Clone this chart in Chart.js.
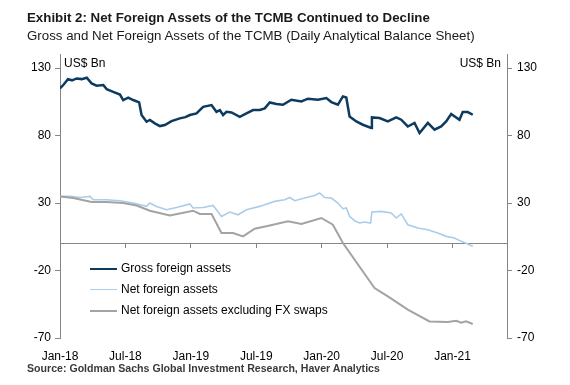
<!DOCTYPE html>
<html>
<head>
<meta charset="utf-8">
<script src="https://cdn.jsdelivr.net/npm/chart.js@4/dist/chart.umd.min.js"></script>
<style>
    body { margin: 0; background: #fff; }
    #wrap { position: relative; width: 570px; height: 385px; font-family: "Liberation Sans", Arial, sans-serif; color: #000; }
    #chart { position: absolute; left: 0; top: 0; }
    .txt { position: absolute; white-space: nowrap; }
    .title { left: 27px; top: 10px; font-size: 13.3px; font-weight: bold; color: #1a1a1a; }
    .subtitle { left: 27px; top: 28px; font-size: 13.3px; color: #1a1a1a; }
    .unit { font-size: 12px; top: 56px; }
    .source { left: 27px; top: 362px; font-size: 10.6px; font-weight: bold; color: #3a3a3a; }
    .legend-row { position: absolute; left: 90px; height: 14px; font-size: 12px; white-space: nowrap; }
    .legend-row span.swatch { position: absolute; left: 0; top: 7px; width: 27px; }
    .legend-row span.label { position: absolute; left: 31px; top: 0; }
</style>
</head>
<body>
<div id="wrap">
    <canvas id="chart" width="570" height="385"></canvas>
    <div class="txt title">Exhibit 2: Net Foreign Assets of the TCMB Continued to Decline</div>
    <div class="txt subtitle">Gross and Net Foreign Assets of the TCMB (Daily Analytical Balance Sheet)</div>
    <div class="txt unit" style="left:64px">US$ Bn</div>
    <div class="txt unit" style="right:69px">US$ Bn</div>
    <div id="legend"></div>
    <div class="txt source">Source: Goldman Sachs Global Investment Research, Haver Analytics</div>
</div>
<script>
// x values are months since Jan-2018
const tickLabels = ['Jan-18', 'Jul-18', 'Jan-19', 'Jul-19', 'Jan-20', 'Jul-20', 'Jan-21'];
const yTicks = [-70, -20, 30, 80, 130];
const seriesNames = ['Gross foreign assets', 'Net foreign assets', 'Net foreign assets excluding FX swaps'];
const seriesColors = ['#0d3a5f', '#a9cdea', '#a3a3a3'];
const seriesWidths = [2.5, 1.6, 2];

const grossMonths = [0, 0.3, 0.73, 1.1, 1.53, 1.99, 2.45, 2.9, 3.36, 3.97, 4.28, 4.88, 5.5, 5.8, 6.26, 6.71, 7.26, 7.48, 7.94, 8.24, 8.7, 9.16, 9.62, 10.23, 10.99, 11.5, 11.91, 12.52, 13.13, 13.9, 14.35, 14.66, 14.96, 15.27, 15.73, 16.49, 17.1, 17.71, 18.32, 18.78, 19.24, 19.85, 20.45, 21.22, 22.14, 22.74, 23.66, 24.43, 24.89, 25.49, 25.95, 26.26, 26.56, 27.18, 27.78, 28.55, 28.61, 29.31, 30.07, 30.84, 31.3, 31.9, 32.52, 32.98, 33.74, 34.35, 34.96, 35.42, 35.88, 36.64, 36.94, 37.4, 37.86];
const grossValues = [114.9, 117.4, 121.8, 120.9, 122.3, 121.8, 122.8, 118.6, 116.9, 117.4, 114.4, 112.4, 110.4, 106.3, 108, 106.3, 104.5, 95.2, 90.2, 91.5, 89, 87, 87.8, 90.7, 92.7, 93.6, 95.2, 96.4, 101.3, 102.6, 97.6, 98.9, 95.2, 97.6, 97.1, 93.9, 96.4, 98.9, 98.9, 100.1, 104.5, 103.3, 102.8, 106.5, 105.3, 107.3, 106.5, 107.8, 104.8, 102.8, 109, 108.2, 94.1, 90.4, 88, 85.6, 93.4, 93, 90.4, 93.4, 91.7, 86.7, 89.3, 81.9, 89.3, 84.3, 86.7, 90.4, 95.9, 91.7, 97.4, 97.4, 95.4];

const netMonths = [0, 0.92, 1.83, 2.75, 3.05, 4.28, 5.5, 6.71, 7.94, 8.24, 8.86, 9.77, 10.69, 11.91, 12.21, 13.13, 14.04, 14.35, 14.81, 15.57, 16.33, 17.1, 18.32, 18.78, 19.69, 20.61, 21.07, 21.53, 22.44, 23.36, 23.82, 24.27, 24.89, 25.49, 25.95, 26.26, 26.56, 27.02, 27.48, 27.94, 28.49, 28.61, 29.47, 30.38, 30.84, 31.3, 31.9, 32.82, 33.74, 34.65, 35.42, 36.18, 36.8, 37.4, 37.86];
const netValues = [34.9, 34.9, 34.1, 34.9, 32.4, 32.4, 31.7, 30, 27.5, 30, 27.5, 25, 26.7, 29.3, 26.3, 26.7, 28.2, 25, 20.1, 23.3, 21.3, 25, 27.5, 28.7, 31.2, 32.4, 34.1, 31.7, 33.7, 35.6, 37.4, 34.1, 33.7, 30, 25.8, 26.3, 20.1, 16.9, 15.2, 15.9, 15.2, 23.3, 23.8, 22.6, 18.9, 21.9, 13.9, 11.5, 10.2, 7.8, 5.3, 4.1, 1.6, -0.4, -2.1];

const exSwapMonths = [0, 1.22, 2.9, 4.28, 5.8, 7.03, 8.24, 10.08, 12.21, 12.82, 13.9, 14.81, 15.87, 16.79, 17.86, 19.24, 20.91, 22.14, 23.97, 25.03, 25.95, 28.85, 30.07, 31.9, 33.89, 35.57, 36.34, 36.8, 37.24, 37.86];
const exSwapValues = [34.9, 33.7, 30.7, 30.7, 30, 28.2, 24.3, 20.8, 24.3, 21.9, 21.9, 7.8, 7.8, 5.3, 11, 13.4, 16.4, 14.4, 18.9, 13.9, 0.4, -33, -39.2, -49, -57.7, -58.1, -57.2, -58.7, -57.7, -59.6];

const axisGrey = '#868686';
const fontSpec = { family: '"Liberation Sans", Arial, sans-serif', size: 12 };

document.addEventListener('DOMContentLoaded', function() {
    buildLegend();
    initChart();
});

function toPoints(months, values) {
    return months.map((m, i) => ({ x: m, y: values[i] }));
}

function setYTicks(scale) {
    scale.ticks = yTicks.map(v => ({ value: v }));
}

function buildLegend() {
    const legend = document.getElementById('legend');
    const rowTops = [261, 282, 303];
    seriesNames.forEach((name, i) => {
        const row = document.createElement('div');
        row.className = 'legend-row';
        row.style.top = rowTops[i] + 'px';
        const swatch = document.createElement('span');
        swatch.className = 'swatch';
        swatch.style.borderTop = seriesWidths[i] + 'px solid ' + seriesColors[i];
        const label = document.createElement('span');
        label.className = 'label';
        label.textContent = name;
        row.appendChild(swatch);
        row.appendChild(label);
        legend.appendChild(row);
    });
}

function initChart() {
    const ctx = document.getElementById('chart').getContext('2d');
    const allData = [
        toPoints(grossMonths, grossValues),
        toPoints(netMonths, netValues),
        toPoints(exSwapMonths, exSwapValues)
    ];

    new Chart(ctx, {
        type: 'line',
        data: {
            datasets: allData.map((d, i) => ({
                label: seriesNames[i],
                data: d,
                borderColor: seriesColors[i],
                borderWidth: seriesWidths[i],
                pointRadius: 0,
                tension: 0,
                fill: false,
                xAxisID: 'x',
                yAxisID: 'y'
            })).reverse()
        },
        options: {
            responsive: false,
            animation: false,
            layout: { padding: { left: 0, right: 0, top: 54, bottom: 0 } },
            plugins: { legend: { display: false }, tooltip: { enabled: false } },
            scales: {
                x: {
                    type: 'linear',
                    position: { y: 0 },
                    min: 0,
                    max: 41,
                    border: { display: true, color: axisGrey, width: 1 },
                    grid: { drawOnChartArea: false, drawTicks: true, tickLength: 4, tickColor: axisGrey },
                    ticks: { display: false, stepSize: 6, includeBounds: false }
                },
                xb: {
                    type: 'linear',
                    position: 'bottom',
                    min: 0,
                    max: 41,
                    border: { display: false },
                    grid: { display: false, drawTicks: false },
                    ticks: {
                        stepSize: 6,
                        includeBounds: false,
                        autoSkip: false,
                        maxRotation: 0,
                        padding: 11,
                        color: '#000',
                        font: fontSpec,
                        callback: v => tickLabels[v / 6]
                    },
                    afterFit: s => { s.height = 47; }
                },
                y: {
                    position: 'left',
                    min: -70,
                    max: 140.4,
                    border: { display: true, color: axisGrey, width: 1 },
                    grid: { drawOnChartArea: false, drawTicks: true, tickLength: 5, tickColor: axisGrey },
                    ticks: { padding: 4, color: '#000', font: fontSpec },
                    afterBuildTicks: setYTicks,
                    afterFit: s => { s.width = 60; }
                },
                y2: {
                    position: 'right',
                    min: -70,
                    max: 140.4,
                    border: { display: true, color: axisGrey, width: 1 },
                    grid: { drawOnChartArea: false, drawTicks: true, tickLength: 5, tickColor: axisGrey },
                    ticks: { padding: 5, color: '#000', font: fontSpec },
                    afterBuildTicks: setYTicks,
                    afterFit: s => { s.width = 63; }
                }
            }
        }
    });
}
</script>
</body>
</html>
